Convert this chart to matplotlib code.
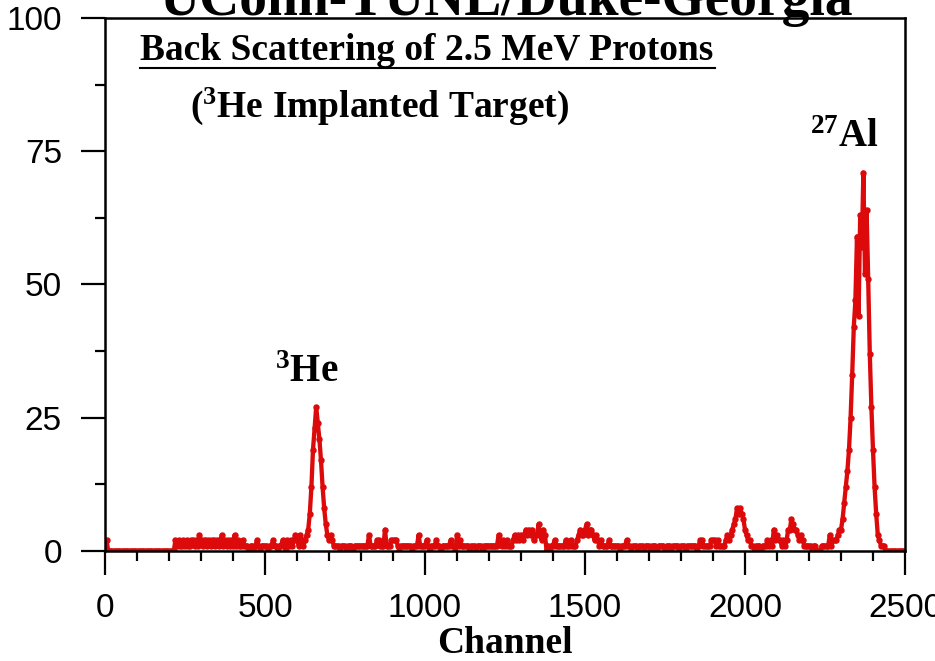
import numpy as np
import matplotlib
matplotlib.use("Agg")
import matplotlib.pyplot as plt
from matplotlib.ticker import MultipleLocator

# spectrum: counts per 5-channel step, starting at channel 0 (one row = 100 channels)
counts = [
    0, 2, 0, 0, 0, 0, 0, 0, 0, 0, 0, 0, 0, 0, 0, 0, 0, 0, 0, 0,          # 0
    0, 0, 0, 0, 0, 0, 0, 0, 0, 0, 0, 0, 0, 0, 0, 0, 0, 0, 0, 0,          # 100
    0, 0, 0, 0, 2, 1, 2, 1, 1, 2, 1, 2, 1, 1, 2, 2, 1, 2, 1, 3,          # 200
    2, 1, 2, 2, 1, 2, 1, 2, 2, 1, 2, 1, 2, 3, 1, 2, 1, 2, 1, 2,          # 300
    1, 3, 1, 2, 1, 1, 2, 1, 1, 1, 0, 1, 1, 0, 1, 2, 1, 0, 1, 1,          # 400
    1, 1, 0, 1, 1, 2, 1, 1, 0, 1, 1, 2, 1, 0, 2, 1, 2, 1, 2, 3,          # 500
    2, 1, 3, 2, 1, 2, 3, 4, 7, 12, 19, 23, 27, 24, 21, 17, 12, 8, 5, 3,  # 600
    2, 3, 2, 1, 1, 1, 1, 0, 1, 1, 1, 0, 1, 1, 1, 0, 1, 1, 1, 1,          # 700
    1, 1, 1, 1, 1, 3, 1, 1, 1, 1, 2, 2, 1, 1, 1, 4, 1, 1, 1, 2,          # 800
    2, 2, 2, 1, 0, 1, 1, 1, 1, 1, 1, 1, 0, 1, 1, 1, 3, 1, 1, 1,          # 900
    1, 2, 1, 0, 1, 1, 1, 2, 1, 1, 0, 1, 1, 1, 1, 1, 2, 1, 1, 0,          # 1000
    3, 1, 2, 1, 1, 1, 1, 1, 0, 1, 1, 1, 0, 1, 1, 1, 0, 1, 1, 1,          # 1100
    1, 1, 1, 1, 1, 1, 3, 2, 1, 2, 1, 2, 1, 1, 1, 2, 3, 2, 3, 2,          # 1200
    3, 2, 3, 4, 3, 4, 3, 4, 2, 3, 3, 5, 3, 2, 4, 3, 0, 1, 0, 1,          # 1300
    1, 2, 1, 1, 1, 1, 1, 1, 2, 1, 1, 2, 1, 1, 1, 2, 3, 4, 3, 3,          # 1400
    4, 5, 3, 4, 4, 3, 2, 3, 2, 1, 2, 1, 1, 1, 1, 2, 1, 1, 1, 1,          # 1500
    1, 1, 0, 1, 1, 1, 2, 1, 1, 0, 1, 1, 1, 0, 1, 1, 1, 0, 1, 1,          # 1600
    1, 0, 1, 1, 1, 0, 1, 1, 1, 1, 0, 1, 1, 1, 0, 1, 1, 1, 1, 0,          # 1700
    1, 1, 1, 0, 1, 1, 1, 1, 1, 1, 0, 1, 2, 2, 1, 1, 1, 1, 1, 2,          # 1800
    2, 2, 1, 2, 1, 1, 1, 1, 2, 3, 2, 3, 4, 5, 6, 8, 7, 8, 7, 6,          # 1900
    4, 3, 2, 2, 1, 1, 0, 1, 1, 1, 0, 1, 1, 1, 2, 1, 2, 1, 4, 2,          # 2000
    3, 2, 2, 1, 2, 1, 2, 4, 4, 6, 5, 4, 4, 3, 2, 3, 2, 1, 1, 1,          # 2100
    1, 1, 0, 1, 1, 0, 0, 0, 1, 1, 1, 1, 1, 3, 1, 2, 2, 2, 3, 4,          # 2200
    4, 6, 9, 12, 15, 19, 25, 33, 42, 47, 59, 44, 63, 57, 71, 52, 64, 51, 37, 27,  # 2300
    19, 12, 7, 3, 2, 1, 1, 1, 0, 0, 0, 0, 0, 0, 0, 0, 0, 0, 0, 0,        # 2400
]
step = 5
channels = np.arange(len(counts)) * step

x_ticks = [0, 500, 1000, 1500, 2000, 2500]
y_ticks = [0, 25, 50, 75, 100]

serif = "Liberation Serif"
sans = "Liberation Sans"
plt.rcParams["mathtext.fontset"] = "custom"
plt.rcParams["mathtext.rm"] = "Liberation Serif:bold"
plt.rcParams["mathtext.default"] = "rm"

fig = plt.figure(figsize=(9.35, 6.61), dpi=100)
ax = fig.add_axes([0.1123, 0.1664, 0.8556, 0.8064])

ax.plot(channels, counts, color="#dc0a0a", lw=3.1, marker="o", ms=3.6,
        solid_joinstyle="round")

ax.set_xlim(0, 2500)
ax.set_ylim(0, 100)
ax.set_xticks(x_ticks)
ax.set_yticks(y_ticks)
ax.xaxis.set_minor_locator(MultipleLocator(100))
ax.yaxis.set_minor_locator(MultipleLocator(12.5))
ax.tick_params(which="major", length=17, width=1.6, direction="out",
               labelsize=24, pad=13)
ax.tick_params(axis="y", which="major", pad=14)
ax.tick_params(which="minor", length=7, width=1.6, direction="out")
for lab in ax.get_xticklabels() + ax.get_yticklabels():
    lab.set_fontfamily(sans)
for sp in ax.spines.values():
    sp.set_linewidth(1.8)

ax.set_xlabel("Channel", fontfamily=serif, fontweight="bold", fontsize=27,
              labelpad=2)

ax.text(109, 92.1, "Back Scattering of 2.5 MeV Protons", fontfamily=serif,
        fontweight="bold", fontsize=27, ha="left", va="baseline")
ax.plot([109, 1906], [90.6, 90.6], color="black", lw=1.5, clip_on=False)
ax.text(266, 81.4, r"($^{3}$He Implanted Target)", fontfamily=serif,
        fontweight="bold", fontsize=27, ha="left", va="baseline")
ax.text(2203, 75.8, r"$^{27}$Al", fontfamily=serif, fontweight="bold",
        fontsize=28, ha="left", va="baseline")
ax.text(531, 31.7, r"$^{3}$He", fontfamily=serif, fontweight="bold",
        fontsize=28, ha="left", va="baseline")

fig.text(0.542, 0.977, "UConn-TUNL/Duke-Georgia", fontfamily=serif,
         fontweight="bold", fontsize=40, ha="center", va="baseline")

fig.savefig("out.png", dpi=100)
